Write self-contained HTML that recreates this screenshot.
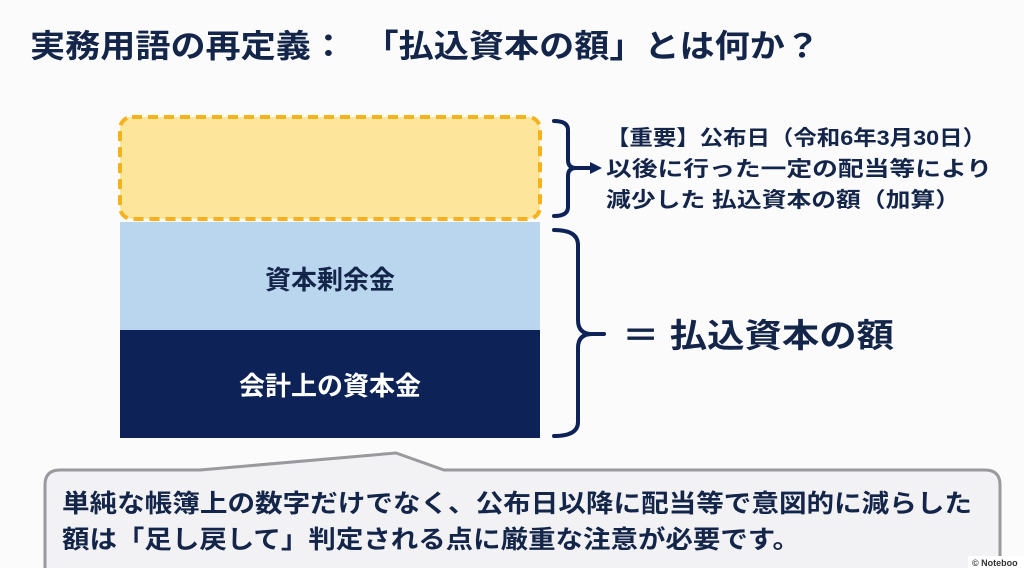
<!DOCTYPE html>
<html><head><meta charset="utf-8"><style>
html,body{margin:0;padding:0;background:#fbfbfc;}
svg{display:block;}
text{font-family:"Liberation Sans","Noto Sans CJK JP",sans-serif;font-weight:bold;}
</style></head><body>
<svg width="1024" height="568" viewBox="0 0 1024 568">
<rect width="1024" height="568" fill="#fbfbfc"/>
<text x="30" y="57" font-size="32" fill="#14254a" textLength="790" lengthAdjust="spacingAndGlyphs">実務用語の再定義：　「払込資本の額」とは何か？</text>
<rect x="120" y="222" width="420" height="110" fill="#b9d6ee"/>
<rect x="120" y="330" width="420" height="108" fill="#0d2358"/>
<rect x="120" y="117" width="420" height="102" rx="12" fill="#fde59c" stroke="#f5b21f" stroke-width="4" stroke-dasharray="10,6"/>
<text x="330" y="289" font-size="26" fill="#14254a" text-anchor="middle">資本剰余金</text>
<text x="330" y="395" font-size="26" fill="#ffffff" text-anchor="middle">会計上の資本金</text>
<g fill="none" stroke="#0d2358" stroke-width="4" stroke-linecap="round" stroke-linejoin="round">
<path d="M554 121 Q568 121 568 130 L568 160 Q568 168 576 168 Q568 168 568 176 L568 207 Q568 216 554 216"/>
<path d="M576 168 L594 168"/>
<path d="M554 230 Q578 230 578 245 L578 320 Q578 334 592 334 L604 334 M592 334 Q578 334 578 348 L578 422 Q578 436 554 436"/>
</g>
<path d="M590 162 L602 168 L590 174 Z" fill="#0d2358"/>
<text x="606" y="145" font-size="21" fill="#14254a" textLength="380" lengthAdjust="spacingAndGlyphs">【重要】公布日（令和6年3月30日）</text>
<text x="606" y="176" font-size="21" fill="#14254a" textLength="386" lengthAdjust="spacingAndGlyphs">以後に行った一定の配当等により</text>
<text x="606" y="207" font-size="21" fill="#14254a" textLength="354" lengthAdjust="spacingAndGlyphs">減少した 払込資本の額（加算）</text>
<text x="622" y="347" font-size="33" fill="#14254a" textLength="272" lengthAdjust="spacingAndGlyphs">＝ 払込資本の額</text>
<path d="M60 470 L200 470 L396 453 L444 470 L985 470 Q1000 470 1000 485 L1000 580 L45 580 L45 485 Q45 470 60 470 Z" fill="#f2f2f4" stroke="#9a9a9e" stroke-width="3"/>
<text x="62" y="512" font-size="25" fill="#14254a" textLength="910" lengthAdjust="spacingAndGlyphs">単純な帳簿上の数字だけでなく、公布日以降に配当等で意図的に減らした</text>
<text x="62" y="548" font-size="25" fill="#14254a" textLength="738" lengthAdjust="spacingAndGlyphs">額は「足し戻して」判定される点に厳重な注意が必要です。</text>
<rect x="968" y="556" width="56" height="12" fill="#ffffff"/>
<text x="972" y="566" font-size="9" fill="#333">© Noteboo</text>
</svg>
</body></html>
